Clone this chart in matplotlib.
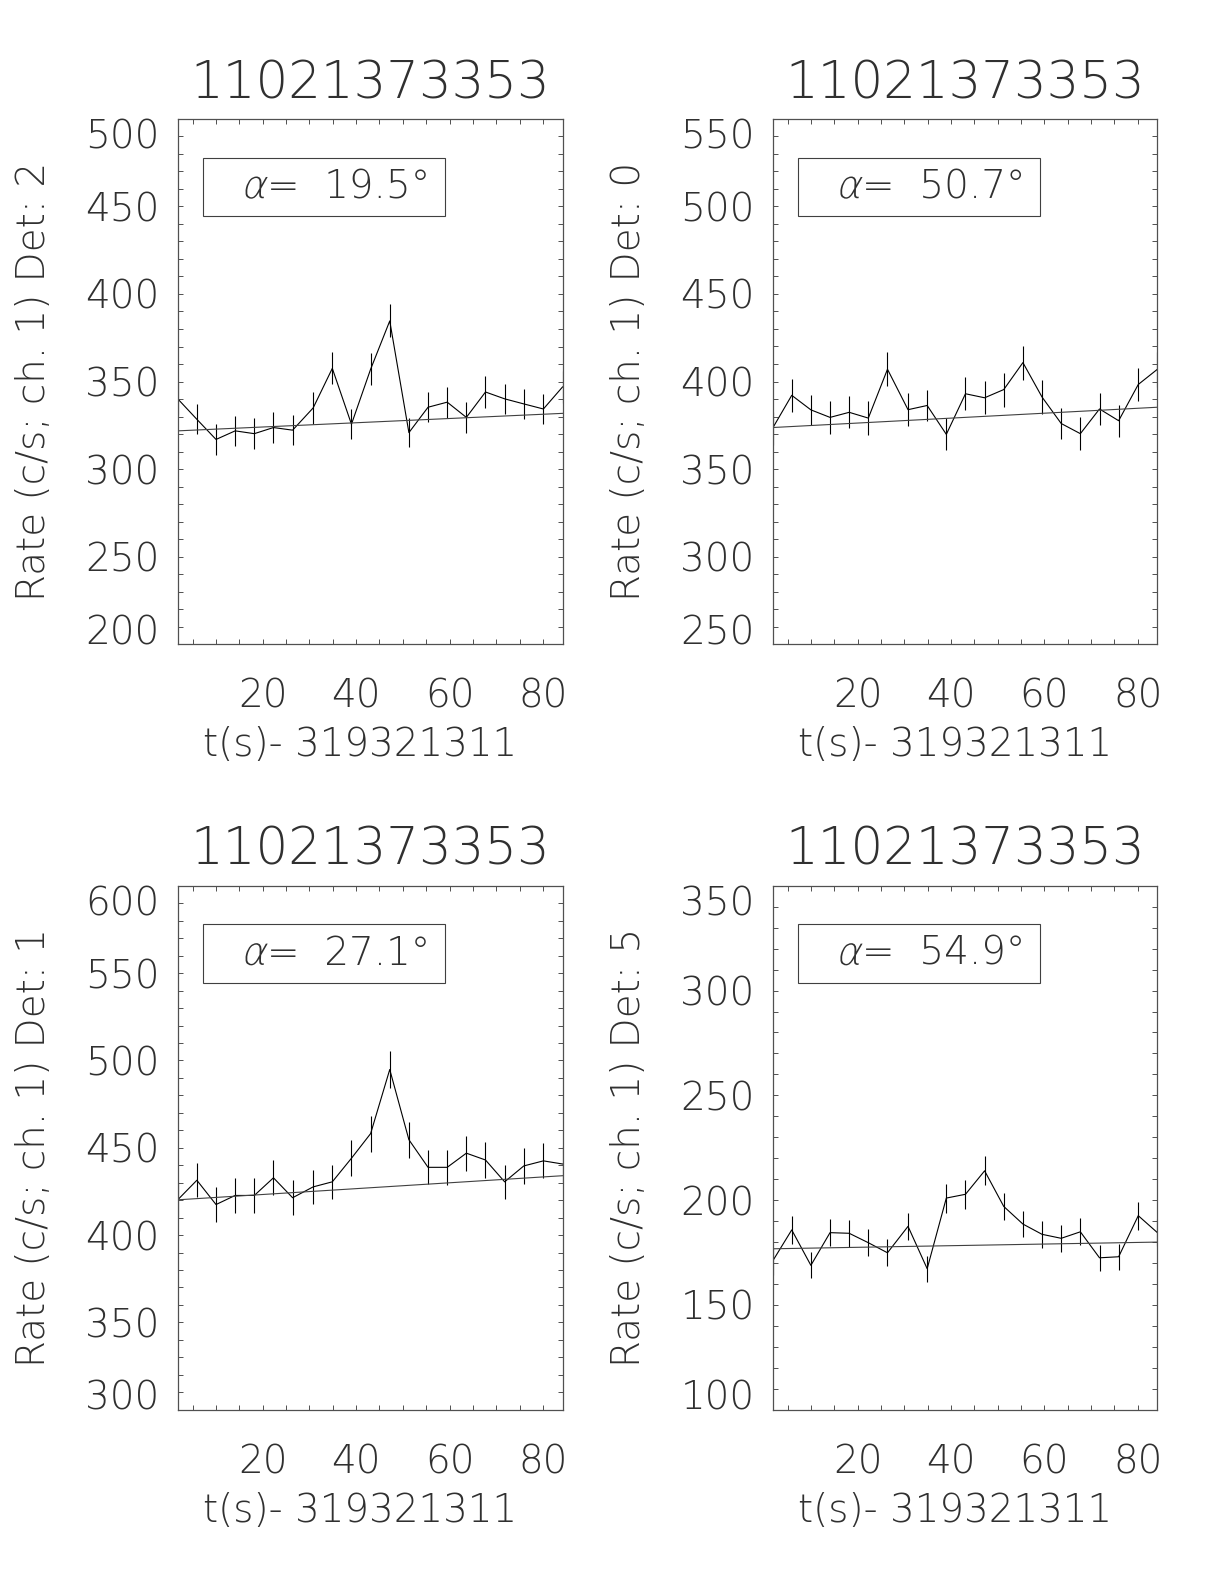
import numpy as np
import matplotlib
matplotlib.use('Agg')
import matplotlib.pyplot as plt
import matplotlib.ticker
from matplotlib.patches import Rectangle, PathPatch
from matplotlib.textpath import TextPath
from matplotlib.font_manager import FontProperties
from matplotlib.transforms import Affine2D

######################################################################
# Data
######################################################################

burst_id = '11021373353'
t_label = 't(s)- 319321311'

times = [1.8, 5.9, 10.0, 14.1, 18.2, 22.3, 26.4, 30.8, 34.9, 39.0, 43.1,
         47.2, 51.3, 55.4, 59.5, 63.6, 67.7, 71.8, 75.9, 80.1, 84.2]

detectors = ['2', '0', '1', '5']
alphas = [19.5, 50.7, 27.1, 54.9]
y_ranges = [(200, 500), (250, 550), (300, 600), (100, 350)]

rate_det2 = [340.1, 328.4, 316.9, 321.8, 320.2, 323.7, 322.2, 334.9, 357.5, 325.6, 357.0,
             384.6, 320.8, 335.3, 338.2, 329.5, 344.0, 340.1, 337.2, 334.3, 346.9]
err_det2 = [9.1, 8.6, 8.7, 8.7, 8.7, 8.7, 8.7, 9.0, 9.2, 8.7, 9.2,
            9.4, 8.5, 8.7, 8.9, 8.7, 8.9, 8.7, 8.5, 8.7, 9.2]

rate_det0 = [373.3, 392.1, 383.8, 379.5, 382.4, 379.1, 407.0, 383.9, 386.3, 369.8, 393.0,
             390.7, 395.4, 410.8, 391.1, 376.0, 370.2, 384.3, 377.6, 398.3, 407.0]
err_det0 = [9.5, 9.3, 8.7, 9.3, 9.1, 9.5, 9.7, 9.4, 9.1, 9.2, 9.3,
            9.5, 9.7, 9.7, 9.5, 9.1, 9.3, 9.2, 9.2, 9.2, 9.9]

rate_det1 = [420.2, 431.4, 417.5, 422.7, 422.7, 432.8, 421.4, 427.6, 430.5, 444.0, 458.1,
             494.8, 454.6, 438.8, 438.8, 446.9, 443.0, 430.5, 439.6, 442.5, 440.7]
err_det1 = [10.0, 9.7, 10.0, 10.0, 10.0, 10.0, 10.0, 9.9, 9.9, 10.2, 10.3,
            10.6, 10.2, 9.7, 10.0, 10.1, 10.1, 9.7, 10.1, 10.0, 10.2]

rate_det5 = [170.9, 185.8, 168.9, 184.5, 184.2, 179.7, 174.9, 187.5, 167.3, 201.0, 202.8,
             214.0, 197.0, 188.6, 183.7, 181.8, 184.9, 172.5, 173.0, 192.6, 184.5]
err_det5 = [6.5, 6.7, 6.2, 6.6, 6.5, 6.4, 6.4, 6.6, 6.2, 6.9, 6.8,
            7.0, 6.6, 6.4, 6.4, 6.4, 6.5, 6.2, 6.2, 6.7, 6.6]

# background fit: value at first and last time bin
fit_det2 = [321.8, 331.8]
fit_det0 = [373.7, 385.3]
fit_det1 = [420.2, 434.0]
fit_det5 = [176.8, 180.0]

rates = [rate_det2, rate_det0, rate_det1, rate_det5]
errors = [err_det2, err_det0, err_det1, err_det5]
fits = [fit_det2, fit_det0, fit_det1, fit_det5]

######################################################################
# Graphing
######################################################################

TXT = '#303030'
plt.rcParams['font.family'] = ['DejaVu Sans']
plt.rcParams['font.weight'] = 'light'
plt.rcParams['axes.titleweight'] = 'light'
plt.rcParams['axes.labelweight'] = 'light'

FS = 28
DPI = 100


def slanted_alpha(ax, x, y):
    # thin italic alpha: light glyph outline, sheared by hand
    prop = FontProperties(family='DejaVu Sans', weight='light')
    path = TextPath((0, 0), '\u03b1', size=FS, prop=prop)
    x0, y0 = ax.transAxes.transform((x, y))
    tr = Affine2D().skew_deg(13, 0).scale(DPI / 72.).translate(x0, y0)
    ax.add_artist(PathPatch(path, transform=tr, facecolor=TXT, edgecolor='none'))


def plot_panel(ax, det, alpha, yr, rate, err, fit):
    ax.plot(times, rate, color='black', lw=0.8)
    ax.vlines(times, np.array(rate) - np.array(err), np.array(rate) + np.array(err),
              color='black', lw=0.8)
    ax.plot([times[0], times[-1]], fit, color='#404040', lw=0.8)

    ax.set_xlim(times[0], times[-1])
    ax.set_ylim(*yr)
    ax.set_xticks([20, 40, 60, 80])
    ax.xaxis.set_minor_locator(matplotlib.ticker.MultipleLocator(5))
    ax.set_yticks(np.arange(yr[0], yr[1] + 1, 50))
    ax.yaxis.set_minor_locator(matplotlib.ticker.MultipleLocator(10))
    ax.tick_params(which='both', direction='in', top=True, right=True,
                   length=3.5, width=0.7, color='#505050', labelcolor=TXT,
                   labelsize=FS)
    ax.tick_params(axis='x', pad=24)
    ax.tick_params(axis='y', pad=13)
    for s in ax.spines.values():
        s.set_color('#505050')
        s.set_linewidth(0.9)

    # end labels are pulled inside the axis range like in the original
    yticks = ax.yaxis.get_major_ticks()
    yticks[0].label1.set_va('baseline')
    yticks[-1].label1.set_va('top')

    ax.set_title(burst_id, fontsize=37, color=TXT, pad=15, fontweight='light')
    ax.set_xlabel(t_label, fontsize=FS, color=TXT, fontweight='light')
    ax.xaxis.set_label_coords(0.473, -0.157)
    ax.set_ylabel('Rate (c/s; ch. 1) Det: ' + det, fontsize=FS, color=TXT,
                  fontweight='light')
    ax.yaxis.set_label_coords(-0.325, 0.5)

    ax.add_patch(Rectangle((0.0667, 0.8144), 0.628, 0.112, transform=ax.transAxes,
                           fill=False, edgecolor='#404040', lw=0.8))
    slanted_alpha(ax, 0.163, 0.849)
    ax.text(0.232, 0.849, '=  %.1f°' % alpha, transform=ax.transAxes,
            fontsize=FS, color=TXT, va='baseline', ha='left', fontweight='light')


fig = plt.figure(figsize=(12.24, 15.84), dpi=DPI)
positions = [[0.1452, 0.5934, 0.3144, 0.3315],
             [0.6312, 0.5934, 0.3144, 0.3315],
             [0.1452, 0.1100, 0.3144, 0.3308],
             [0.6312, 0.1100, 0.3144, 0.3308]]

for i in range(4):
    ax = fig.add_axes(positions[i])
    plot_panel(ax, detectors[i], alphas[i], y_ranges[i], rates[i], errors[i], fits[i])

fig.savefig('out.png', dpi=DPI)
